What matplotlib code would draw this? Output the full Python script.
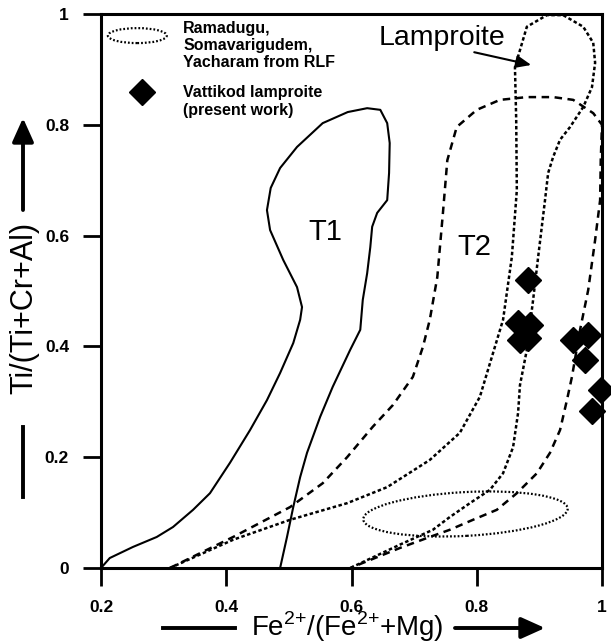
import matplotlib
matplotlib.use("Agg")
import matplotlib.pyplot as plt
from matplotlib.lines import Line2D
from matplotlib.patches import Ellipse

plt.rcParams["font.family"] = ["Liberation Sans", "DejaVu Sans"]
plt.rcParams["mathtext.fontset"] = "custom"
plt.rcParams["mathtext.rm"] = "Liberation Sans"

# --- field outlines (data coords) ---
t1_x = [0.200, 0.214, 0.251, 0.289, 0.315, 0.347, 0.374, 0.406, 0.438, 0.465,
        0.486, 0.507, 0.518, 0.521, 0.513, 0.491, 0.470, 0.465, 0.471, 0.486,
        0.513, 0.554, 0.594, 0.625, 0.646, 0.657, 0.661, 0.660, 0.657, 0.641,
        0.633, 0.630, 0.625, 0.618, 0.614, 0.598, 0.570, 0.550, 0.529, 0.518,
        0.507, 0.497, 0.486]
t1_y = [0.000, 0.018, 0.038, 0.056, 0.074, 0.105, 0.135, 0.190, 0.249, 0.303,
        0.352, 0.406, 0.448, 0.471, 0.507, 0.556, 0.610, 0.646, 0.686, 0.722,
        0.760, 0.803, 0.823, 0.830, 0.827, 0.803, 0.767, 0.713, 0.664, 0.641,
        0.616, 0.579, 0.532, 0.484, 0.430, 0.394, 0.327, 0.273, 0.208, 0.164,
        0.110, 0.056, 0.000]

t2_x = [0.310, 0.411, 0.502, 0.554, 0.593, 0.634, 0.666, 0.698, 0.714, 0.725,
        0.737, 0.746, 0.753, 0.768, 0.800, 0.837, 0.880, 0.922, 0.954, 0.986,
        1.000, 0.998, 0.997, 0.989, 0.978, 0.965, 0.952, 0.944, 0.933, 0.917,
        0.896, 0.864, 0.832, 0.794, 0.757, 0.725, 0.677, 0.598]
t2_y = [0.000, 0.056, 0.110, 0.153, 0.200, 0.255, 0.294, 0.345, 0.399, 0.448,
        0.525, 0.641, 0.736, 0.796, 0.827, 0.845, 0.850, 0.850, 0.845, 0.821,
        0.800, 0.736, 0.664, 0.592, 0.502, 0.430, 0.345, 0.303, 0.249, 0.208,
        0.171, 0.135, 0.105, 0.087, 0.069, 0.056, 0.036, 0.000]

lamp_x = [0.310, 0.411, 0.502, 0.593, 0.657, 0.725, 0.773, 0.805, 0.826, 0.842,
          0.856, 0.864, 0.863, 0.861, 0.880, 0.912, 0.938, 0.970, 0.986, 0.989,
          0.984, 0.970, 0.949, 0.933, 0.922, 0.914, 0.909, 0.898, 0.890, 0.880,
          0.869, 0.866, 0.858, 0.842, 0.821, 0.789, 0.757, 0.730, 0.677, 0.598]
lamp_y = [0.000, 0.051, 0.087, 0.117, 0.146, 0.195, 0.244, 0.309, 0.388, 0.448,
          0.561, 0.682, 0.809, 0.904, 0.977, 0.998, 0.998, 0.977, 0.948, 0.912,
          0.868, 0.832, 0.796, 0.773, 0.742, 0.713, 0.664, 0.561, 0.484, 0.394,
          0.330, 0.280, 0.218, 0.171, 0.141, 0.117, 0.092, 0.069, 0.042, 0.000]

# RLF ellipse: centre, width, height
rlf_centre = (0.782, 0.0975)
rlf_size = (0.327, 0.079)

# Vattikod lamproite spinels
vat_x = [0.882, 0.866, 0.885, 0.869, 0.882, 0.954, 0.978, 0.973, 0.999, 0.984]
vat_y = [0.519, 0.442, 0.438, 0.412, 0.415, 0.412, 0.421, 0.375, 0.322, 0.284]

xticks = [0.2, 0.4, 0.6, 0.8, 1.0]
xticklabels = ["0.2", "0.4", "0.6", "0.8", "1"]
yticks = [0, 0.2, 0.4, 0.6, 0.8, 1.0]
yticklabels = ["0", "0.2", "0.4", "0.6", "0.8", "1"]

W, H = 611, 644
fig = plt.figure(figsize=(W / 100, H / 100), dpi=100)
ax = fig.add_axes([101 / W, 76 / H, 501 / W, 554 / H])
ax.set_xlim(0.2, 1.0)
ax.set_ylim(0, 1.0)

ax.plot(t1_x, t1_y, color="black", lw=1.5)
ax.plot(t2_x, t2_y, color="black", lw=1.8, dashes=(3.0, 2.2))
ax.plot(lamp_x, lamp_y, color="black", lw=1.8, dashes=(1.4, 1.0))
ax.add_patch(Ellipse(rlf_centre, rlf_size[0], rlf_size[1], angle=3.5, fill=False,
                     lw=1.6, ls=(0, (0.8, 0.9)), color="black"))
ax.plot(vat_x, vat_y, "D", color="black", ms=13, clip_on=False, zorder=5)

# legend
ax.add_patch(Ellipse((0.258, 0.961), 0.094, 0.027, fill=False, lw=1.6,
                     ls=(0, (0.8, 0.9)), color="black"))
ax.plot([0.2655], [0.859], "D", color="black", ms=13)
leg_kw = dict(fontsize=11.5, fontweight="bold", va="baseline", ha="left")
ax.text(0.331, 0.966, "Ramadugu,", **leg_kw)
ax.text(0.331, 0.935, "Somavarigudem,", **leg_kw)
ax.text(0.331, 0.904, "Yacharam from RLF", **leg_kw)
ax.text(0.331, 0.850, "Vattikod lamproite", **leg_kw)
ax.text(0.331, 0.818, "(present work)", **leg_kw)

# field labels
ax.text(0.558, 0.606, "T1", fontsize=21, ha="center", va="center")
ax.text(0.797, 0.579, "T2", fontsize=21, ha="center", va="center")
ax.text(0.643, 0.944, "Lamproite", fontsize=20.5, ha="left", va="baseline")
ax.annotate("", xy=(0.887, 0.908), xytext=(0.796, 0.931),
            arrowprops=dict(arrowstyle="-|>,head_length=0.6,head_width=0.25",
                            mutation_scale=15, lw=1.5, color="black",
                            shrinkA=0, shrinkB=0))

ax.set_xticks(xticks)
ax.set_xticklabels(xticklabels)
ax.set_yticks(yticks)
ax.set_yticklabels(yticklabels)
ax.tick_params(length=13, width=2, labelsize=12.5, direction="out")
ax.tick_params(axis="x", pad=10)
ax.tick_params(axis="y", pad=10)
for lab in ax.get_xticklabels() + ax.get_yticklabels():
    lab.set_fontweight("bold")
for s in ax.spines.values():
    s.set_linewidth(2.2)

# axis titles with arrows (figure pixels)
fig.text(347 / W, 1 - 627 / H, r"Fe$^{2{+}}$/(Fe$^{2{+}}$+Mg)",
         fontsize=20, ha="center", va="center")
fig.add_artist(Line2D([163 / W, 235 / W], [1 - 628 / H, 1 - 628 / H],
                      color="black", lw=2.8))
arrow_style = dict(arrowstyle="-|>,head_length=0.6,head_width=0.27",
                   mutation_scale=24, lw=2.8, color="black",
                   shrinkA=0, shrinkB=0)
ax.annotate("", xy=(545, 644 - 628), xytext=(455, 644 - 628),
            xycoords="figure pixels", textcoords="figure pixels",
            arrowprops=arrow_style)

fig.text(24 / W, 1 - 308 / H, "Ti/(Ti+Cr+Al)", fontsize=22, rotation=90,
         ha="center", va="center")
fig.add_artist(Line2D([23 / W, 23 / W], [1 - 427 / H, 1 - 497 / H],
                      color="black", lw=2.8))
ax.annotate("", xy=(23, 644 - 118), xytext=(23, 644 - 210),
            xycoords="figure pixels", textcoords="figure pixels",
            arrowprops=arrow_style)

fig.savefig("out.png", dpi=100)
